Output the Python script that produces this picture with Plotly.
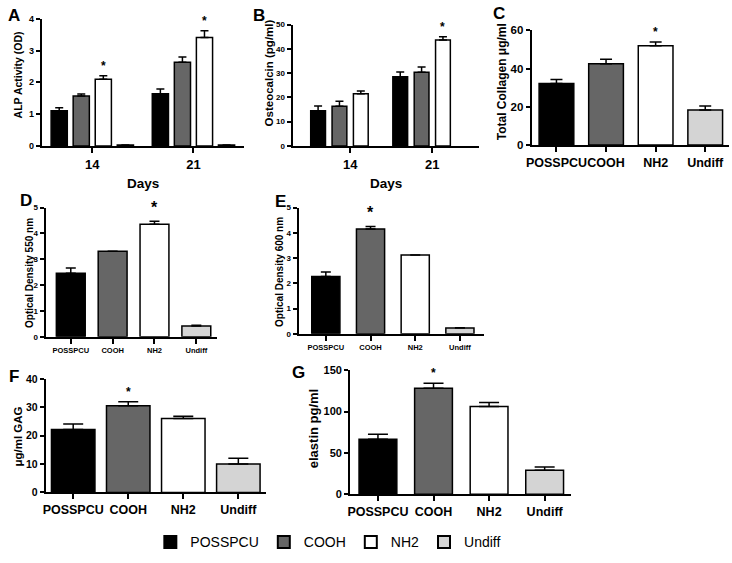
import plotly.graph_objects as go

W, H = 732, 563
FONT = "Liberation Sans"

# %% data
groups = ["POSSPCU", "COOH", "NH2", "Undiff"]
days = ["14", "21"]

# A: ALP activity (OD), per group, day 14 / day 21
alp = {
    "POSSPCU": [1.11, 1.64],
    "COOH": [1.57, 2.63],
    "NH2": [2.10, 3.41],
    "Undiff": [0.03, 0.03],
}
alp_err = {
    "POSSPCU": [0.09, 0.15],
    "COOH": [0.06, 0.17],
    "NH2": [0.11, 0.21],
    "Undiff": [0.0, 0.0],
}

# B: osteocalcin (pg/ml), no Undiff
osteo = {
    "POSSPCU": [14.5, 28.5],
    "COOH": [16.4, 30.4],
    "NH2": [21.5, 43.7],
}
osteo_err = {
    "POSSPCU": [2.0, 2.0],
    "COOH": [2.0, 2.1],
    "NH2": [1.1, 1.3],
}

collagen = [32.2, 42.5, 52.0, 18.3]
collagen_err = [2.1, 2.4, 2.0, 2.1]
od550 = [2.46, 3.31, 4.36, 0.42]
od550_err = [0.20, 0.0, 0.11, 0.03]
od600 = [2.27, 4.15, 3.12, 0.23]
od600_err = [0.18, 0.10, 0.0, 0.01]
gag = [22.2, 30.5, 26.0, 10.0]
gag_err = [1.9, 1.4, 0.8, 2.0]
elastin = [66.5, 128.0, 106.0, 29.0]
elastin_err = [6.0, 6.0, 5.0, 4.0]

# significance stars: (group, day index)
alp_stars = [("NH2", 0), ("NH2", 1)]
osteo_stars = [("NH2", 1)]

colors = {"POSSPCU": "#000000", "COOH": "#666666", "NH2": "#ffffff", "Undiff": "#d4d4d4"}


# %% helpers
def fx(p):
    return p / W


def fy(p):
    return 1 - p / H


fig = go.Figure()
annotations = []

# panel layout: id, x px (left,right), y px (top,bottom), x range, y range, dtick, fonts
panels = {
    "A": dict(n=1, x=(36, 240), y=(13, 143), xr=[-0.5, 1.5], yr=[0, 4], dt=1, yt=9, xt=13),
    "B": dict(n=2, x=(289, 477), y=(19, 143), xr=[-0.7, 1.57], yr=[0, 50], dt=10, yt=8, xt=13),
    "C": dict(n=3, x=(530, 729), y=(25, 142), xr=[-0.5, 3.48], yr=[0, 60], dt=20, yt=11.5, xt=12.5),
    "D": dict(n=4, x=(40, 213), y=(206, 338), xr=[-0.6, 3.5], yr=[0, 5], dt=1, yt=8, xt=7.5),
    "E": dict(n=5, x=(295, 482), y=(206, 335), xr=[-0.61, 3.54], yr=[0, 5], dt=1, yt=8, xt=7.5),
    "F": dict(n=6, x=(40, 262), y=(381, 497), xr=[-0.5, 3.5], yr=[0, 40], dt=10, yt=10.5, xt=12.5),
    "G": dict(n=7, x=(347, 570), y=(372, 499), xr=[-0.5, 3.48], yr=[0, 150], dt=50, yt=11, xt=12.5),
}

for key, p in panels.items():
    n = p["n"]
    sx = "" if n == 1 else str(n)
    fig.update_layout({
        f"xaxis{sx}": dict(
            domain=[fx(p["x"][0]), fx(p["x"][1])], anchor=f"y{sx}", type="category",
            range=p["xr"], showline=True, linecolor="black", linewidth=2,
            ticks="outside", ticklen=5, tickwidth=2, tickcolor="black", tickangle=0,
            tickfont=dict(family=FONT, size=p["xt"], color="black", weight="bold"),
            showgrid=False, zeroline=False, fixedrange=True,
        ),
        f"yaxis{sx}": dict(
            domain=[fy(p["y"][1]), fy(p["y"][0])], anchor=f"x{sx}",
            range=p["yr"], dtick=p["dt"], showline=True, linecolor="black", linewidth=2,
            ticks="outside", ticklen=4, tickwidth=2, tickcolor="black",
            tickfont=dict(family=FONT, size=p["yt"], color="black", weight="bold"),
            showgrid=False, zeroline=False, fixedrange=True,
        ),
    })


def err_dict(vals, w):
    return dict(type="data", array=vals, arrayminus=[0] * len(vals), symmetric=False,
                width=w, thickness=1.5, color="black", visible=True)


def star(x, y, xref, yref, size, shift):
    return dict(x=x, y=y, xref=xref, yref=yref, text="*", showarrow=False, yshift=shift,
                xanchor="center", yanchor="middle",
                font=dict(family=FONT, size=size, color="black", weight="bold"))


# %% A and B: grouped by day with explicit slot offsets
def grouped(data, errs, n, step, width, cap, legend):
    sx = "" if n == 1 else str(n)
    for i, g in enumerate(groups):
        if g not in data:
            continue
        centre = (i - 1.5) * step
        fig.add_trace(go.Bar(
            name=g, x=days, y=data[g], width=width, offset=centre - width / 2,
            marker=dict(color=colors[g], line=dict(color="black", width=1.5)),
            error_y=err_dict(errs[g], cap), xaxis=f"x{sx}", yaxis=f"y{sx}",
            showlegend=legend, legendgroup=g,
        ))


grouped(alp, alp_err, 1, 0.218, 0.16, 4, True)
grouped(osteo, osteo_err, 2, 0.26, 0.18, 4, False)

for g, d in alp_stars:
    i = groups.index(g)
    annotations.append(star(d + (i - 1.5) * 0.218, alp[g][d] + alp_err[g][d], "x", "y", 12, 10))
for g, d in osteo_stars:
    i = groups.index(g)
    annotations.append(star(d + (i - 1.5) * 0.26, osteo[g][d] + osteo_err[g][d], "x2", "y2", 12, 10))


# %% C-G: one bar per group
def single(vals, errs, n, width, cap, star_group, star_size, star_shift):
    sx = str(n)
    fig.add_trace(go.Bar(
        x=groups, y=vals, width=width,
        marker=dict(color=[colors[g] for g in groups], line=dict(color="black", width=1.5)),
        error_y=err_dict(errs, cap), xaxis=f"x{sx}", yaxis=f"y{sx}", showlegend=False,
    ))
    i = groups.index(star_group)
    annotations.append(star(i, vals[i] + errs[i], f"x{sx}", f"y{sx}", star_size, star_shift))


single(collagen, collagen_err, 3, 0.7, 6, "NH2", 12, 10)
single(od550, od550_err, 4, 0.69, 5, "NH2", 16, 14)
single(od600, od600_err, 5, 0.63, 5, "COOH", 16, 14)
single(gag, gag_err, 6, 0.79, 10, "COOH", 12, 10)
single(elastin, elastin_err, 7, 0.68, 10, "COOH", 12, 10)

# %% text: panel letters, axis titles
letters = [("A", 8, 10), ("B", 255, 10), ("C", 497, 8), ("D", 20, 199),
           ("E", 277, 200), ("F", 8, 379), ("G", 295, 374)]
for t, x, y in letters:
    annotations.append(dict(x=fx(x), y=fy(y), xref="paper", yref="paper", text=t, showarrow=False,
                            xanchor="center", yanchor="middle",
                            font=dict(family=FONT, size=17, color="black", weight="bold")))

ytitles = [
    ("ALP Activity (OD)", 12, 70, 10.5),
    ("Osteocalcin (pg/ml)", 265, 68, 11.5),
    ("Total Collagen μg/ml", 500, 77, 12),
    ("Optical Density 550 nm", 23, 273, 10),
    ("Optical Density 600 nm", 275, 272, 10),
    ("μg/ml GAG", 12, 440, 11.5),
    ("elastin pg/ml", 310, 432, 13),
]
for t, x, y, s in ytitles:
    annotations.append(dict(x=fx(x), y=fy(y), xref="paper", yref="paper", text=t, showarrow=False,
                            xanchor="center", yanchor="middle", textangle=-90,
                            font=dict(family=FONT, size=s, color="black", weight="bold")))

for x in (138, 383):
    annotations.append(dict(x=fx(x), y=fy(181), xref="paper", yref="paper", text="Days", showarrow=False,
                            xanchor="center", yanchor="middle",
                            font=dict(family=FONT, size=13.5, color="black", weight="bold")))

fig.update_layout(
    width=W, height=H, margin=dict(l=0, r=0, t=0, b=0),
    paper_bgcolor="white", plot_bgcolor="white", barmode="overlay",
    annotations=annotations,
    legend=dict(orientation="h", x=fx(325), xanchor="center", y=fy(548), yanchor="middle",
                font=dict(family=FONT, size=14, color="black"), itemsizing="constant"),
)

# the page body has a default 8px margin; drop it so the figure sits at the window origin
fig.write_html("out.html", config={"displayModeBar": False},
               post_script="document.body.style.margin = '0';")
